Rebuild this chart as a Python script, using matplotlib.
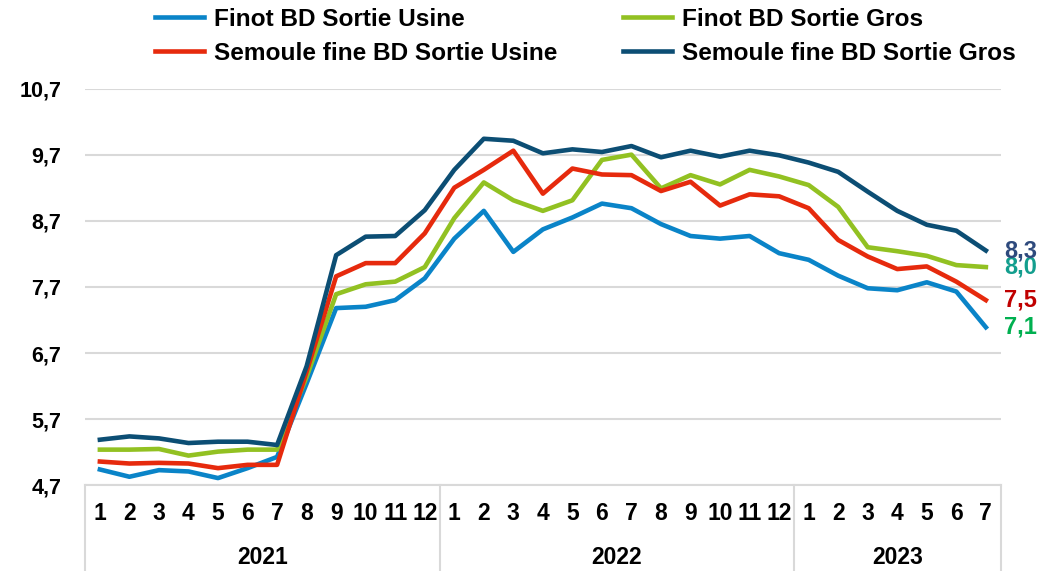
import matplotlib
matplotlib.use("Agg")
import matplotlib.pyplot as plt
import matplotlib.transforms as mtransforms

plt.rcParams['font.family'] = ['Liberation Sans', 'DejaVu Sans']
plt.rcParams['font.weight'] = 'bold'

months = [str(m) for m in range(1, 13)] * 2 + [str(m) for m in range(1, 8)]
years = ["2021", "2022", "2023"]
year_counts = [12, 12, 7]

finot_usine = [4.94, 4.83, 4.93, 4.91, 4.81, 4.96, 5.13, 6.24, 7.38, 7.40, 7.50, 7.83,
               8.43, 8.85, 8.23, 8.57, 8.75, 8.96, 8.89, 8.65, 8.47, 8.43, 8.47, 8.21,
               8.11, 7.87, 7.68, 7.65, 7.77, 7.63, 7.09]
finot_gros = [5.24, 5.24, 5.25, 5.15, 5.21, 5.24, 5.24, 6.34, 7.59, 7.74, 7.78, 8.00,
              8.74, 9.28, 9.01, 8.85, 9.01, 9.62, 9.70, 9.19, 9.39, 9.25, 9.47, 9.37,
              9.24, 8.91, 8.30, 8.24, 8.17, 8.03, 8.00]
semoule_usine = [5.06, 5.03, 5.04, 5.03, 4.96, 5.01, 5.01, 6.42, 7.86, 8.06, 8.06, 8.51,
                 9.20, 9.47, 9.76, 9.11, 9.49, 9.40, 9.39, 9.15, 9.29, 8.93, 9.10, 9.07,
                 8.89, 8.41, 8.16, 7.97, 8.01, 7.78, 7.50]
semoule_gros = [5.39, 5.44, 5.41, 5.34, 5.36, 5.36, 5.31, 6.50, 8.18, 8.46, 8.47, 8.86,
                9.47, 9.94, 9.91, 9.72, 9.78, 9.74, 9.83, 9.66, 9.76, 9.67, 9.76, 9.69,
                9.58, 9.44, 9.14, 8.85, 8.64, 8.55, 8.25]

end_labels = ["7,1", "8,0", "7,5", "8,3"]
yticks = [4.7, 5.7, 6.7, 7.7, 8.7, 9.7, 10.7]

series = [
    ("Finot BD Sortie Usine", finot_usine, "#0A84C8", "#00B050"),
    ("Finot BD Sortie Gros", finot_gros, "#92C122", "#139E8E"),
    ("Semoule fine BD Sortie Usine", semoule_usine, "#E62A0D", "#C00000"),
    ("Semoule fine BD Sortie Gros", semoule_gros, "#0C4E74", "#2E4A7D"),
]

fig = plt.figure(figsize=(10.38, 5.71), dpi=100)
ax = fig.add_axes([0.082, 0.150, 0.882, 0.695])

x = list(range(len(months)))
handles = {}
for (name, vals, col, lcol), lab in zip(series, end_labels):
    h, = ax.plot(x, vals, color=col, lw=3.3, solid_joinstyle='round', label=name, zorder=3)
    handles[name] = h
    ax.annotate(lab, xy=(x[-1], vals[-1]), xytext=(13, 0), textcoords='offset points',
                color=lcol, fontsize=17, fontweight='bold', va='center', ha='left',
                annotation_clip=False)

ax.set_xlim(-0.5, len(months) - 0.5)
ax.set_ylim(4.7, 10.7)
ax.set_yticks(yticks)
ax.set_yticklabels([f"{v:.1f}".replace(".", ",") for v in yticks], fontsize=15.5, fontweight='bold')
ax.set_xticks(x)
ax.set_xticklabels(months, fontsize=16.5, fontweight='bold')
ax.tick_params(axis='y', length=0, pad=17)
ax.tick_params(axis='x', length=0, pad=12)
ax.grid(axis='y', color='#D9D9D9', lw=1.5)
ax.set_axisbelow(True)
for s in ['left', 'right', 'top']:
    ax.spines[s].set_visible(False)
ax.spines['bottom'].set_color('#D9D9D9')
ax.spines['bottom'].set_linewidth(1.5)

# two-level category axis: separators and year labels
trans = mtransforms.blended_transform_factory(ax.transData, ax.transAxes)
bounds = [-0.5]
for c in year_counts:
    bounds.append(bounds[-1] + c)
for b in bounds:
    ax.plot([b, b], [0, -0.23], transform=trans, color='#D9D9D9', lw=1.5, clip_on=False)
for i, yr in enumerate(years):
    ax.text((bounds[i] + bounds[i + 1]) / 2, -0.182, yr, transform=trans, ha='center',
            va='center', fontsize=16.5, fontweight='bold')

order = ["Finot BD Sortie Usine", "Semoule fine BD Sortie Usine",
         "Finot BD Sortie Gros", "Semoule fine BD Sortie Gros"]
fig.legend([handles[n] for n in order], order, ncol=2, loc='upper left',
           bbox_to_anchor=(0.149, 0.986), frameon=False, prop={'size': 17.6, 'weight': 'bold'},
           borderpad=0, borderaxespad=0,
           handlelength=2.0, handletextpad=0.42, columnspacing=2.7, labelspacing=0.45)

fig.savefig("out.png", dpi=100)
